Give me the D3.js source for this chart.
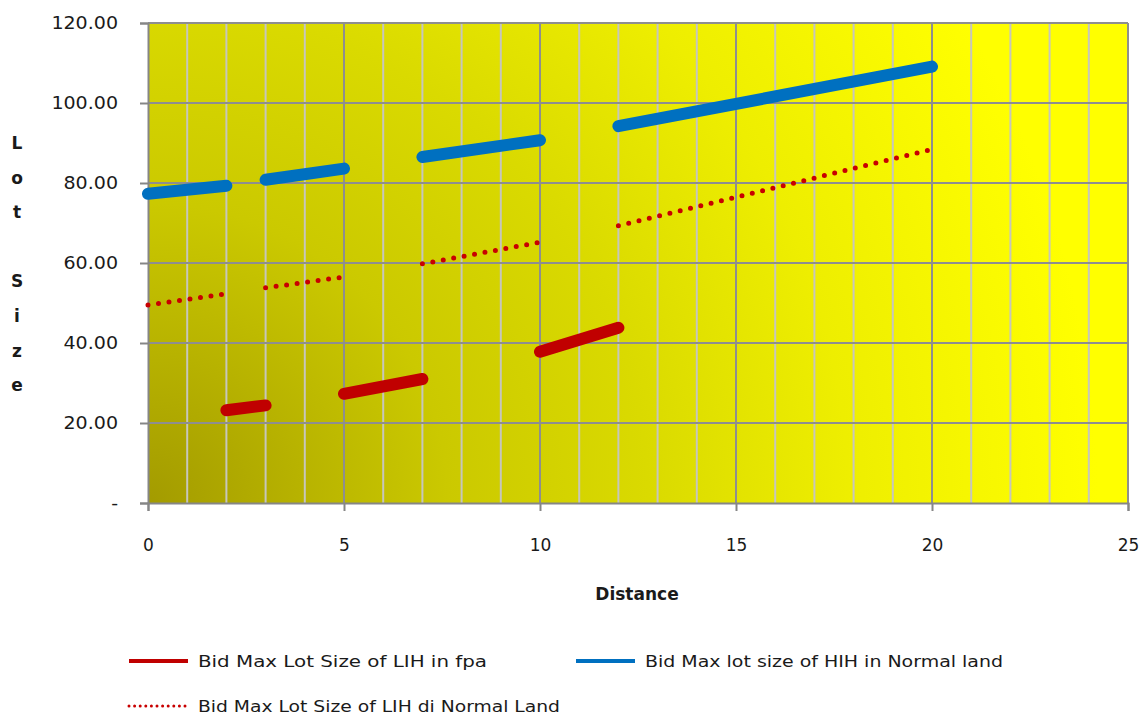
<!DOCTYPE html>
<html>
<head>
<meta charset="utf-8">
<script src="https://cdn.jsdelivr.net/npm/d3@7/dist/d3.min.js"></script>
<style>
  html, body { margin: 0; padding: 0; background: #ffffff; }
  svg { display: block; }
  text { font-family: "DejaVu Sans", Verdana, sans-serif; fill: #1a1a1a; }
</style>
</head>
<body>
<svg id="chart" width="1147" height="716"></svg>
<script>
// ---- Data ----
const xTicks = [0, 5, 10, 15, 20, 25];
const yTicks = [0, 20, 40, 60, 80, 100, 120];
const yTickLabels = ["-", "20.00", "40.00", "60.00", "80.00", "100.00", "120.00"];

// Bid Max Lot Size of LIH in fpa (segments separated by null)
const fpaDistance = [2, 3, null, 5, 7, null, 10, 12];
const fpaLotSize  = [23.2, 24.4, null, 27.3, 31.0, null, 37.8, 43.8];

// Bid Max lot size of HIH in Normal land
const hihDistance = [0, 2, null, 3, 5, null, 7, 10, null, 12, 20];
const hihLotSize  = [77.3, 79.3, null, 80.8, 83.6, null, 86.5, 90.7, null, 94.2, 109.1];

// Bid Max Lot Size of LIH di Normal Land
const lihDistance = [0, 2, null, 3, 5, null, 7, 10, null, 12, 20];
const lihLotSize  = [49.5, 52.3, null, 53.8, 56.5, null, 59.8, 65.2, null, 69.3, 88.4];

const seriesNames = [
  "Bid Max Lot Size of LIH in fpa",
  "Bid Max lot size of HIH in Normal land",
  "Bid Max Lot Size of LIH di Normal Land"
];

// ---- Layout ----
const svg = d3.select("#chart");
const pLeft = 148, pRight = 1128, pTop = 23, pBottom = 503;

const x = d3.scaleLinear().domain([0, 25]).range([pLeft, pRight]);
const y = d3.scaleLinear().domain([0, 120]).range([pBottom, pTop]);

function stretch(sel, k) {
  sel.each(function () {
    const w = this.getComputedTextLength();
    if (w > 0) d3.select(this).attr("textLength", w * k).attr("lengthAdjust", "spacingAndGlyphs");
  });
}

// background gradient (dark olive bottom-left -> bright yellow)
const defs = svg.append("defs");
const grad = defs.append("radialGradient")
  .attr("id", "bg").attr("gradientUnits", "userSpaceOnUse")
  .attr("cx", pLeft).attr("cy", pBottom).attr("r", 1000);
[[0, "#a39b00"], [0.3, "#cbc900"], [0.5, "#dada00"], [0.7, "#eeee00"], [0.95, "#ffff00"], [1, "#ffff00"]]
  .forEach(([o, c]) => grad.append("stop").attr("offset", o).attr("stop-color", c));

svg.append("rect")
  .attr("x", pLeft).attr("y", pTop)
  .attr("width", pRight - pLeft).attr("height", pBottom - pTop)
  .attr("fill", "url(#bg)");

// minor vertical gridlines (every 1)
const minorX = d3.range(1, 26).filter(d => d % 5 !== 0);
svg.append("g").selectAll("line").data(minorX).join("line")
  .attr("x1", d => x(d)).attr("x2", d => x(d))
  .attr("y1", pTop).attr("y2", pBottom)
  .attr("stroke", "#c6c6bc").attr("stroke-width", 2);

// major vertical gridlines
svg.append("g").selectAll("line").data(xTicks.filter(d => d > 0)).join("line")
  .attr("x1", d => x(d)).attr("x2", d => x(d))
  .attr("y1", pTop).attr("y2", pBottom)
  .attr("stroke", "#8e8e8e").attr("stroke-width", 2);

// horizontal gridlines
svg.append("g").selectAll("line").data(yTicks.filter(d => d > 0)).join("line")
  .attr("x1", pLeft).attr("x2", pRight)
  .attr("y1", d => y(d)).attr("y2", d => y(d))
  .attr("stroke", "#8e8e8e").attr("stroke-width", 2);

// axes
const yAxis = d3.axisLeft(y).tickValues(yTicks)
  .tickFormat((d, i) => yTickLabels[i]).tickSize(8).tickPadding(22);
const gy = svg.append("g").attr("transform", `translate(${pLeft},0)`).call(yAxis);
gy.select(".domain").attr("stroke", "#868686").attr("stroke-width", 2);
gy.selectAll(".tick line").attr("stroke", "#868686").attr("stroke-width", 2);
gy.selectAll(".tick text").style("font-size", "17px").style("font-family", "DejaVu Sans, sans-serif")
  .attr("fill", "#1a1a1a");
stretch(gy.selectAll(".tick text"), 1.12);

const xAxis = d3.axisBottom(x).tickValues(xTicks).tickSize(8).tickPadding(28);
const gx = svg.append("g").attr("transform", `translate(0,${pBottom})`).call(xAxis);
gx.select(".domain").attr("stroke", "#868686").attr("stroke-width", 2);
gx.selectAll(".tick line").attr("stroke", "#868686").attr("stroke-width", 2);
gx.selectAll(".tick text").style("font-size", "17px").style("font-family", "DejaVu Sans, sans-serif")
  .attr("fill", "#1a1a1a");

// axis titles
svg.append("text").attr("x", 637).attr("y", 600).attr("text-anchor", "middle")
  .style("font-size", "17px").style("font-weight", "bold").text("Distance");

const yTitle = ["L", "o", "t", "", "S", "i", "z", "e"];
svg.append("g").selectAll("text").data(yTitle).join("text")
  .attr("x", 17).attr("y", (d, i) => 149 + i * 34.6)
  .attr("text-anchor", "middle")
  .style("font-size", "17px").style("font-weight", "bold")
  .text(d => d);

// lines
function pts(xs, ys) { return xs.map((d, i) => [d, ys[i]]); }
const line = d3.line()
  .defined(d => d[0] !== null && d[1] !== null)
  .x(d => x(d[0])).y(d => y(d[1]));

svg.append("path").datum(pts(lihDistance, lihLotSize))
  .attr("d", line).attr("fill", "none")
  .attr("stroke", "#c80000").attr("stroke-width", 5)
  .attr("stroke-linecap", "round").attr("stroke-dasharray", "0 10.6");

svg.append("path").datum(pts(hihDistance, hihLotSize))
  .attr("d", line).attr("fill", "none")
  .attr("stroke", "#0070c0").attr("stroke-width", 12)
  .attr("stroke-linecap", "round").attr("stroke-linejoin", "round");

svg.append("path").datum(pts(fpaDistance, fpaLotSize))
  .attr("d", line).attr("fill", "none")
  .attr("stroke", "#c00000").attr("stroke-width", 12)
  .attr("stroke-linecap", "round").attr("stroke-linejoin", "round");

// legend
const legend = [
  { name: seriesNames[0], color: "#c00000", dash: null, w: 4, lx: 128, ly: 661, tw: 289 },
  { name: seriesNames[1], color: "#0070c0", dash: null, w: 4, lx: 575, ly: 661, tw: 358 },
  { name: seriesNames[2], color: "#c80000", dash: "0 5.6", w: 3, lx: 128, ly: 706, tw: 362 }
];
const lg = svg.append("g").selectAll("g").data(legend).join("g");
lg.append("line")
  .attr("x1", d => d.lx + 1).attr("x2", d => d.lx + 60)
  .attr("y1", d => d.ly).attr("y2", d => d.ly)
  .attr("stroke", d => d.color).attr("stroke-width", d => d.w)
  .attr("stroke-linecap", d => d.dash ? "round" : "butt")
  .attr("stroke-dasharray", d => d.dash);
lg.append("text")
  .attr("x", d => d.lx + 70).attr("y", d => d.ly + 6)
  .style("font-size", "16px")
  .attr("textLength", d => d.tw).attr("lengthAdjust", "spacingAndGlyphs")
  .text(d => d.name);
</script>
</body>
</html>
